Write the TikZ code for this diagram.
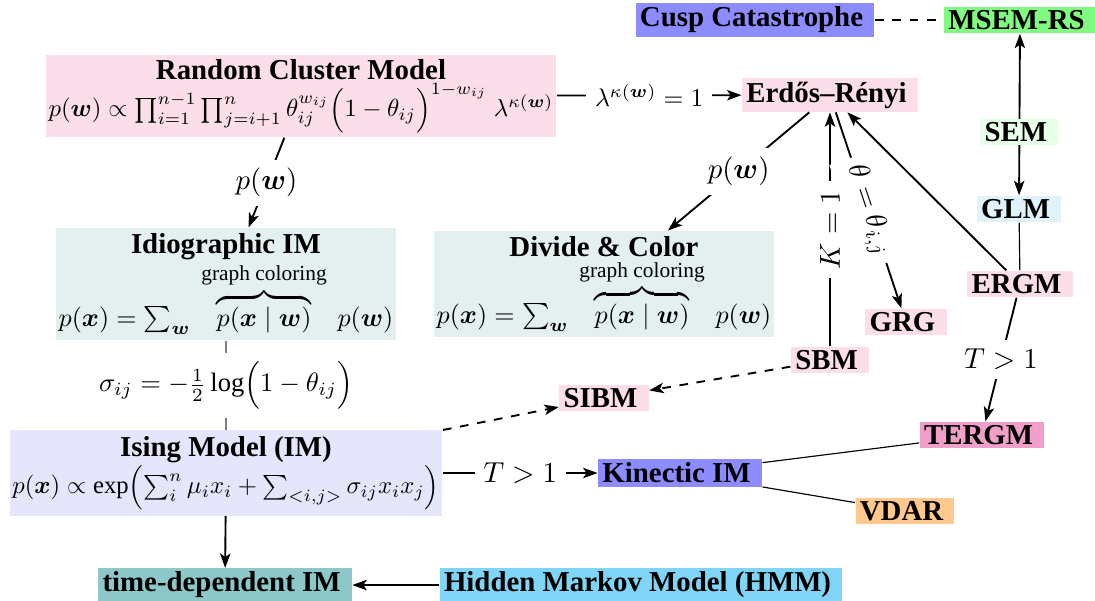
\documentclass[tikz,border=0pt]{standalone}
\usepackage{amsmath}
\usepackage{graphicx}
\usepackage{fontspec}
\setmainfont{Liberation Serif}
\usetikzlibrary{arrows.meta}
\definecolor{cpink}{RGB}{251,222,233}
\definecolor{cteal}{RGB}{228,240,240}
\definecolor{clav}{RGB}{229,229,252}
\definecolor{ctime}{RGB}{142,199,199}
\definecolor{chmm}{RGB}{128,212,245}
\definecolor{cblue}{RGB}{140,140,255}
\definecolor{cgreen}{RGB}{128,250,128}
\definecolor{csem}{RGB}{232,255,232}
\definecolor{cglm}{RGB}{224,242,250}
\definecolor{ctergm}{RGB}{240,160,200}
\definecolor{cvdar}{RGB}{255,200,140}
\tikzset{
  tagbox/.style={fill=#1, inner xsep=1.5pt, inner ysep=1.2pt, font=\bfseries,
    execute at end node={\hspace*{2.4pt}}},
  bigbox/.style={fill=#1, align=center, inner xsep=1pt, inner ysep=2pt},
  lab/.style={fill=white, inner sep=3pt},
  arr/.style={line width=0.65pt, -{Stealth[length=5pt,width=3.6pt,inset=1.2pt]}},
  thinline/.style={line width=0.4pt}
}
\newcommand{\bw}{\boldsymbol{w}}
\newcommand{\bx}{\boldsymbol{x}}
\newcommand{\gclabel}{\text{\fontsize{8.2pt}{9pt}\selectfont graph coloring}}
\begin{document}
\begin{tikzpicture}[x=0.3466pt,y=-0.3466pt]
\useasboundingbox (0,0) rectangle (1095,600);
% nodes
\node[tagbox=cblue] (cusp) at (755,20) {Cusp Catastrophe};
\node[tagbox=cgreen] (msem) at (1020,20) {MSEM-RS};
\node[tagbox=cpink] (er) at (830,95) {Erdős–Rényi};
\node[tagbox=cglm] (glm) at (1019,209) {GLM};
\node[tagbox=cpink] (ergm) at (1020,284) {ERGM};
\node[tagbox=cpink] (grg) at (906,322) {GRG};
\node[tagbox=cpink] (sbm) at (830,360) {SBM};
\node[tagbox=cpink] (sibm) at (604,398) {SIBM};
\node[tagbox=ctergm] (tergm) at (982,435) {TERGM};
\node[tagbox=cblue] (kin) at (680,473) {Kinectic IM};
\node[tagbox=cvdar] (vdar) at (905,511) {VDAR};
\node[tagbox=ctime] (tdim) at (225,585) {time-dependent IM};
\node[tagbox=chmm] (hmm) at (641,585) {Hidden Markov Model (HMM)};
\node[bigbox=cpink, inner ysep=1.5pt] (rcm) at (301,96) {\textbf{Random Cluster Model}\\[1pt]
  \resizebox{175pt}{!}{$p(\bw) \propto \prod_{i=1}^{n-1}\prod_{j=i+1}^{n}\theta_{ij}^{w_{ij}}\Bigl(1-\theta_{ij}\Bigr)^{1-w_{ij}}\ \lambda^{\kappa(\bw)}$}};
\node[bigbox=cteal, minimum width=118pt] (idio) at (226,284) {\textbf{Idiographic IM}\\
  \resizebox{116pt}{!}{$p(\bx) = \sum_{\bw}\ \overbrace{p(\bx\mid\bw)}^{\gclabel}\ p(\bw)$}};
\node[bigbox=cteal, minimum width=118pt] (dc) at (604,284) {\textbf{Divide \& Color}\\
  \resizebox{116pt}{!}{$p(\bx) = \sum_{\bw}\ \overbrace{p(\bx\mid\bw)}^{\gclabel}\ p(\bw)$}};
\node[bigbox=clav] (ising) at (226,473) {\textbf{Ising Model (IM)}\\
  \resizebox{148pt}{!}{$p(\bx) \propto \exp\Bigl(\sum_i^n \mu_i x_i + \sum_{<i,j>}\sigma_{ij}x_ix_j\Bigr)$}};
% connectors
\draw[thinline, dashed] (cusp) -- (msem);
\draw[arr] (rcm) -- node[lab]{\resizebox{37.5pt}{!}{$\lambda^{\kappa(\bw)} = 1$}} (er);
\draw[arr] (rcm) -- node[lab]{$p(\bw)$} (idio);
\draw[arr] (er) -- node[lab]{$p(\bw)$} (dc);
\draw[thinline, gray] (idio) -- node[lab, text=black]{\resizebox{88pt}{!}{$\sigma_{ij} = -\frac{1}{2}\log\Bigl(1-\theta_{ij}\Bigr)$}} (ising);
\draw[arr] (ising) -- (tdim);
\draw[arr] (hmm) -- (tdim);
\draw[arr] (ising) -- node[lab]{$T>1$} (kin);
\draw[arr, dashed] (ising) -- (sibm);
\draw[arr, dashed] (sbm) -- (sibm);
\draw[arr] (sbm) -- node[lab, sloped]{$K=1$} (er);
\draw[arr] (er) -- node[lab, sloped]{$\theta = \theta_{i,j}$} (grg);
\draw[arr] (ergm) -- (er);
\draw[arr] (ergm) -- node[lab]{$T>1$} (tergm);
\draw[thinline] (glm) -- (ergm);
\draw[arr, {Stealth[length=5pt,width=3.6pt,inset=1.2pt]}-{Stealth[length=5pt,width=3.6pt,inset=1.2pt]}] (msem) -- node[pos=0.61, tagbox=csem] (sem) {SEM} (glm);
\draw[thinline] (kin) -- (tergm);
\draw[thinline] (kin) -- (vdar);
\end{tikzpicture}
\end{document}
